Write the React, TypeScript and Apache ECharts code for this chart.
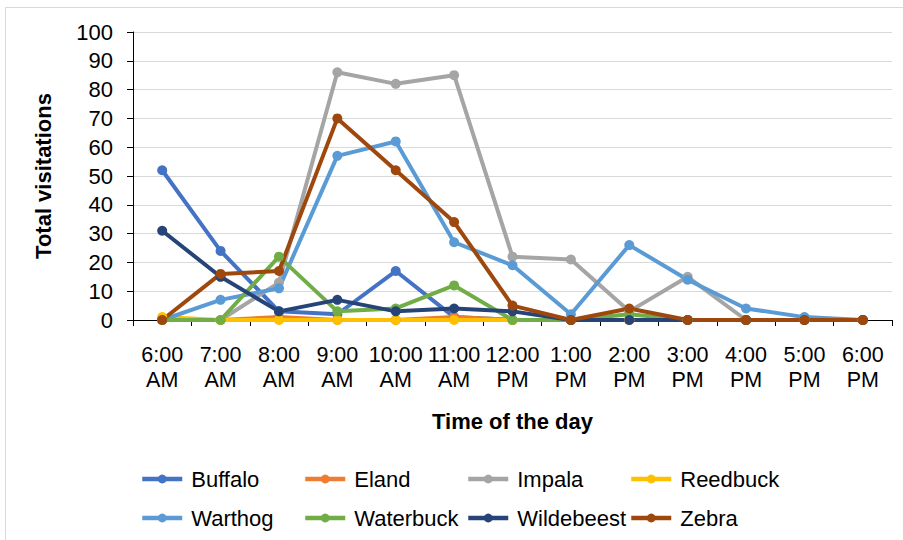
import React, { useEffect, useRef } from "react";
import * as echarts from "echarts";

const categories = [
  "6:00\nAM", "7:00\nAM", "8:00\nAM", "9:00\nAM", "10:00\nAM", "11:00\nAM",
  "12:00\nPM", "1:00\nPM", "2:00\nPM", "3:00\nPM", "4:00\nPM", "5:00\nPM", "6:00\nPM",
];
const buffalo = [52, 24, 3, 2, 17, 1, 0, 0, 0, 0, 0, 0, 0];
const eland = [0, 0, 1, 0, 0, 1, 0, 0, 0, 0, 0, 0, 0];
const impala = [0, 0, 13, 86, 82, 85, 22, 21, 3, 15, 0, 0, 0];
const reedbuck = [1, 0, 0, 0, 0, 0, 0, 0, 0, 0, 0, 0, 0];
const warthog = [0, 7, 11, 57, 62, 27, 19, 2, 26, 14, 4, 1, 0];
const waterbuck = [0, 0, 22, 3, 4, 12, 0, 0, 2, 0, 0, 0, 0];
const wildebeest = [31, 15, 3, 7, 3, 4, 3, 0, 0, 0, 0, 0, 0];
const zebra = [0, 16, 17, 70, 52, 34, 5, 0, 4, 0, 0, 0, 0];

const seriesNames = ["Buffalo", "Eland", "Impala", "Reedbuck", "Warthog", "Waterbuck", "Wildebeest", "Zebra"];
const seriesData = [buffalo, eland, impala, reedbuck, warthog, waterbuck, wildebeest, zebra];
const colors = ["#4472C4", "#ED7D31", "#A5A5A5", "#FFC000", "#5B9BD5", "#70AD47", "#264478", "#9E480E"];

export default function App() {
  const ref = useRef<HTMLDivElement>(null);
  useEffect(() => {
    document.body.style.margin = "0";
    const chart = echarts.init(ref.current!, null, { renderer: "svg" });
    const font = "'Liberation Sans', Arial, sans-serif";
    const legendCols = [140, 303, 466, 629];
    const legendRows = [468, 507];
    const legends = seriesNames.map((n, i) => ({
      data: [n],
      left: legendCols[i % 4],
      top: legendRows[Math.floor(i / 4)],
      itemWidth: 40,
      itemHeight: 11,
      padding: 0,
      lineStyle: { width: 4.5 },
      textStyle: { fontFamily: font, fontSize: 22, color: "#000", padding: [0, 0, 0, 4] },
    }));
    chart.setOption({
      animation: false,
      color: colors,
      graphic: [
        {
          type: "rect",
          shape: { x: 5.5, y: 7.5, width: 905, height: 540 },
          style: { fill: "none", stroke: "#d9d9d9", lineWidth: 1 },
          silent: true,
        },
      ],
      legend: legends,
      grid: { left: 133, right: 11, top: 32, height: 288 },
      xAxis: {
        type: "category",
        data: categories,
        boundaryGap: true,
        name: "Time of the day",
        nameLocation: "middle",
        nameGap: 90,
        nameTextStyle: { fontFamily: font, fontSize: 22, fontWeight: "bold", color: "#000" },
        axisLine: { lineStyle: { color: "#000", width: 1 } },
        axisTick: { show: true, length: 6, lineStyle: { color: "#000" } },
        axisLabel: { fontFamily: font, fontSize: 21.5, color: "#000", lineHeight: 25, margin: 22, interval: 0 },
      },
      yAxis: {
        type: "value",
        min: 0,
        max: 100,
        interval: 10,
        name: "Total visitations",
        nameLocation: "middle",
        nameGap: 79,
        nameTextStyle: { fontFamily: font, fontSize: 22, fontWeight: "bold", color: "#000" },
        axisLine: { show: true, lineStyle: { color: "#000", width: 1 } },
        axisTick: { show: true, length: 6, lineStyle: { color: "#000" } },
        axisLabel: { fontFamily: font, fontSize: 22, color: "#000", margin: 20 },
        splitLine: { lineStyle: { color: "#d9d9d9", width: 1 } },
      },
      series: seriesNames.map((n, i) => ({
        name: n,
        type: "line",
        data: seriesData[i],
        symbol: "circle",
        symbolSize: 10,
        lineStyle: { width: 4, color: colors[i] },
        itemStyle: { color: colors[i] },
      })),
    });
    return () => chart.dispose();
  }, []);
  return <div ref={ref} style={{ width: 903, height: 540 }} />;
}
